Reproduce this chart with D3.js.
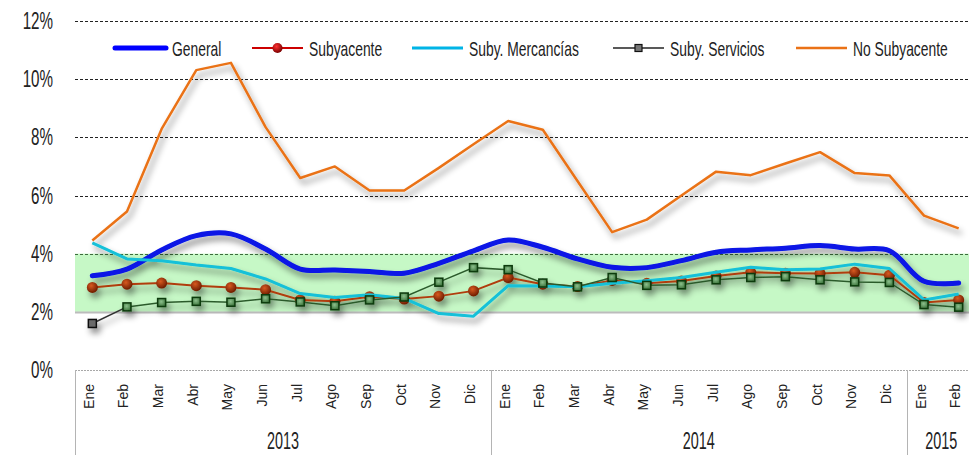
<!DOCTYPE html>
<html>
<head>
<meta charset="utf-8">
<script src="https://cdn.jsdelivr.net/npm/d3@7"></script>
<style>
  body { margin: 0; background: #fff; }
  svg text { font-family: "Liberation Sans", Arial, sans-serif; fill: #222; }
</style>
</head>
<body>
<div id="chart"></div>
<script>
// ---- data ----
var months = ["Ene", "Feb", "Mar", "Abr", "May", "Jun", "Jul", "Ago", "Sep", "Oct", "Nov", "Dic"];
var years = ["2013", "2014", "2015"];
var monthsPerYear = [12, 12, 2];

var seriesNames = ["General", "Subyacente", "Suby. Mercancías", "Suby. Servicios", "No Subyacente"];

var general = [3.24, 3.47, 4.13, 4.62, 4.68, 4.16, 3.47, 3.44, 3.39, 3.33, 3.67, 4.10,
  4.47, 4.22, 3.82, 3.53, 3.52, 3.76, 4.05, 4.13, 4.19, 4.28, 4.16, 4.10, 3.05, 2.99];
var subyacente = [2.84, 2.95, 2.99, 2.90, 2.84, 2.76, 2.41, 2.36, 2.52, 2.44, 2.54, 2.72,
  3.18, 2.95, 2.87, 3.08, 2.98, 3.06, 3.23, 3.36, 3.33, 3.32, 3.36, 3.26, 2.32, 2.41];
var mercancias = [4.37, 3.82, 3.76, 3.61, 3.49, 3.13, 2.63, 2.49, 2.59, 2.46, 1.94, 1.85,
  2.90, 2.89, 2.86, 2.98, 3.07, 3.18, 3.36, 3.53, 3.45, 3.47, 3.64, 3.49, 2.41, 2.61];
var servicios = [1.60, 2.17, 2.32, 2.36, 2.33, 2.45, 2.34, 2.21, 2.41, 2.51, 3.02, 3.52,
  3.45, 2.99, 2.86, 3.18, 2.91, 2.93, 3.10, 3.18, 3.21, 3.10, 3.03, 3.01, 2.25, 2.16];
var noSubyacente = [4.45, 5.45, 8.29, 10.31, 10.56, 8.35, 6.60, 7.00, 6.17, 6.17, 6.95, 7.76,
  8.56, 8.26, 6.50, 4.74, 5.17, 6.00, 6.82, 6.70, 7.10, 7.49, 6.77, 6.69, 5.31, 4.87];

var yTicks = [0, 2, 4, 6, 8, 10, 12];
var targetBand = [2, 4];   // banda verde de referencia

// build category list: one entry per month
var categories = [];
years.forEach(function (yr, i) {
  for (var m = 0; m < monthsPerYear[i]; m++) {
    categories.push({ key: yr + "-" + m, month: months[m], year: yr });
  }
});

// ---- layout ----
var width = 969, height = 455;
var plotLeft = 75, plotRight = 976, plotTop = 21, plotBottom = 370;
// the original font is a condensed one, so squeeze text horizontally
var squeeze = 0.66;

var svg = d3.select("#chart")
  .append("svg")
  .attr("width", width)
  .attr("height", height);

var defs = svg.append("defs");

var shadow = defs.append("filter")
  .attr("id", "shadow")
  .attr("filterUnits", "userSpaceOnUse")
  .attr("x", 0).attr("y", 0)
  .attr("width", width).attr("height", height);
shadow.append("feDropShadow")
  .attr("dx", 3).attr("dy", 5)
  .attr("stdDeviation", 3)
  .attr("flood-color", "#000")
  .attr("flood-opacity", 0.45);

var redGrad = defs.append("radialGradient")
  .attr("id", "redBall").attr("cx", "40%").attr("cy", "35%").attr("r", "65%");
redGrad.append("stop").attr("offset", "0%").attr("stop-color", "#d85a20");
redGrad.append("stop").attr("offset", "100%").attr("stop-color", "#6e1c00");

var legendRed = defs.append("radialGradient")
  .attr("id", "legendRed").attr("cx", "40%").attr("cy", "35%").attr("r", "65%");
legendRed.append("stop").attr("offset", "0%").attr("stop-color", "#ff3030");
legendRed.append("stop").attr("offset", "100%").attr("stop-color", "#7a0000");

var greenGrad = defs.append("radialGradient")
  .attr("id", "greenBox").attr("cx", "45%").attr("cy", "40%").attr("r", "60%");
greenGrad.append("stop").attr("offset", "0%").attr("stop-color", "#8cc08c");
greenGrad.append("stop").attr("offset", "100%").attr("stop-color", "#3e763e");

var x = d3.scaleBand()
  .domain(categories.map(function (d) { return d.key; }))
  .range([plotLeft, plotRight]);

var y = d3.scaleLinear()
  .domain([0, 12])
  .range([plotBottom, plotTop]);

function cx(i) { return x(categories[i].key) + x.bandwidth() / 2; }

// ---- target band ----
svg.append("rect")
  .attr("x", plotLeft)
  .attr("y", y(targetBand[1]))
  .attr("width", plotRight - plotLeft)
  .attr("height", y(targetBand[0]) - y(targetBand[1]))
  .style("fill", "#c6f8c6");

// ---- grid ----
var grid = svg.append("g");
grid.selectAll("line")
  .data(yTicks)
  .enter()
  .append("line")
  .attr("x1", plotLeft)
  .attr("x2", width)
  .attr("y1", d => Math.round(y(d)) + 0.5)
  .attr("y2", d => Math.round(y(d)) + 0.5)
  .style("stroke", function (d) {
    if (d === 0) return "#a8a8a8";
    if (d === targetBand[0]) return "#bcbcbc";
    if (d === targetBand[1]) return "#3c6c3c";
    return "#222";
  })
  .style("stroke-width", d => d === targetBand[0] ? 2 : 1)
  .style("stroke-dasharray", d => d === targetBand[0] ? null : (d === 0 ? "2,1" : "3,2"));

// y labels
svg.append("g")
  .selectAll("text")
  .data(yTicks)
  .enter()
  .append("text")
  .attr("text-anchor", "end")
  .attr("transform", d => "translate(53," + (y(d) + 8) + ") scale(" + squeeze + ",1)")
  .style("font-size", "23px")
  .text(d => d + "%");

// ---- category axis ----
var xAxis = svg.append("g");

// year separators
var sepIdx = [0];
monthsPerYear.reduce(function (acc, n) { sepIdx.push(acc + n); return acc + n; }, 0);
xAxis.selectAll("line.sep")
  .data(sepIdx.slice(0, -1))
  .enter()
  .append("line")
  .attr("class", "sep")
  .attr("x1", i => Math.round(x(categories[i].key)) + 0.5)
  .attr("x2", i => Math.round(x(categories[i].key)) + 0.5)
  .attr("y1", plotBottom)
  .attr("y2", height)
  .style("stroke", "#b4b4b4")
  .style("stroke-width", 1);

xAxis.selectAll("text.month")
  .data(categories)
  .enter()
  .append("text")
  .attr("class", "month")
  .attr("text-anchor", "end")
  .attr("transform", (d, i) => "translate(" + (cx(i) + 1.5) + "," + 384 + ") rotate(-90)")
  .style("font-size", "14px")
  .text(d => d.month);

xAxis.selectAll("text.year")
  .data(years)
  .enter()
  .append("text")
  .attr("class", "year")
  .attr("text-anchor", "middle")
  .attr("transform", function (d, i) {
    var a = x(categories[sepIdx[i]].key);
    var b = sepIdx[i + 1] < categories.length ? x(categories[sepIdx[i + 1]].key) : plotRight;
    return "translate(" + ((a + b) / 2) + ",449) scale(0.6,1)";
  })
  .style("font-size", "24px")
  .text(d => d);

// ---- series ----
var lineLinear = d3.line()
  .x((d, i) => cx(i))
  .y(d => y(d));

var lineSmooth = d3.line()
  .x((d, i) => cx(i))
  .y(d => y(d))
  .curve(d3.curveCatmullRom.alpha(0.5));

var series = svg.append("g").attr("filter", "url(#shadow)");

// General
series.append("path")
  .datum(general)
  .attr("d", lineSmooth)
  .style("fill", "none")
  .style("stroke", "#0714e6")
  .style("stroke-width", 5)
  .style("stroke-linejoin", "round")
  .style("stroke-linecap", "round");

// Subyacente
series.append("path")
  .datum(subyacente)
  .attr("d", lineLinear)
  .style("fill", "none")
  .style("stroke", "#b03c0c")
  .style("stroke-width", 2);

series.append("g")
  .selectAll("circle")
  .data(subyacente)
  .enter()
  .append("circle")
  .attr("cx", (d, i) => cx(i))
  .attr("cy", d => y(d))
  .attr("r", 5.5)
  .style("fill", "url(#redBall)");

// Suby. Mercancias
series.append("path")
  .datum(mercancias)
  .attr("d", lineLinear)
  .style("fill", "none")
  .style("stroke", "#14c0d8")
  .style("stroke-width", 3)
  .style("stroke-linejoin", "round");

// Suby. Servicios
series.append("path")
  .datum(servicios.slice(0, 2))
  .attr("d", lineLinear)
  .style("fill", "none")
  .style("stroke", "#333")
  .style("stroke-width", 1.5);

series.append("path")
  .datum(servicios)
  .attr("d", d3.line().x((d, i) => cx(i)).y(d => y(d)).defined((d, i) => i >= 1))
  .style("fill", "none")
  .style("stroke", "#2c5a2c")
  .style("stroke-width", 1.5);

series.append("g")
  .selectAll("rect")
  .data(servicios)
  .enter()
  .append("rect")
  .attr("x", (d, i) => cx(i) - 4)
  .attr("y", d => y(d) - 4)
  .attr("width", 8)
  .attr("height", 8)
  .style("fill", (d, i) => i === 0 ? "#6a6a6a" : "url(#greenBox)")
  .style("stroke", (d, i) => i === 0 ? "#111" : "#0c3a0c")
  .style("stroke-width", 1.5);

// No Subyacente
series.append("path")
  .datum(noSubyacente)
  .attr("d", lineLinear)
  .style("fill", "none")
  .style("stroke", "#ea7216")
  .style("stroke-width", 2.5)
  .style("stroke-linejoin", "round");

// ---- legend ----
var legendX = [115, 252, 412, 613, 796];
var legendColors = ["#0000ff", "#cc0000", "#00b4e6", "#222", "#ea7216"];
var legendWidths = [5, 2, 3, 1.5, 2.5];
var legendY = 48;

var legend = svg.append("g")
  .selectAll("g")
  .data(seriesNames)
  .enter()
  .append("g")
  .attr("transform", (d, i) => "translate(" + legendX[i] + "," + legendY + ")");

legend.append("line")
  .attr("x1", 0).attr("x2", 51)
  .attr("y1", 0).attr("y2", 0)
  .style("stroke", (d, i) => legendColors[i])
  .style("stroke-width", (d, i) => legendWidths[i])
  .style("stroke-linecap", (d, i) => i === 0 ? "round" : "butt");

legend.filter((d, i) => i === 1)
  .append("circle")
  .attr("cx", 25.5).attr("cy", 0).attr("r", 5)
  .style("fill", "url(#legendRed)");

legend.filter((d, i) => i === 3)
  .append("rect")
  .attr("x", 22).attr("y", -3.5)
  .attr("width", 7).attr("height", 7)
  .style("fill", "#777")
  .style("stroke", "#111")
  .style("stroke-width", 1.2);

legend.append("text")
  .attr("transform", "translate(57,8) scale(" + squeeze + ",1)")
  .style("font-size", "21px")
  .text(d => d);
</script>
</body>
</html>
